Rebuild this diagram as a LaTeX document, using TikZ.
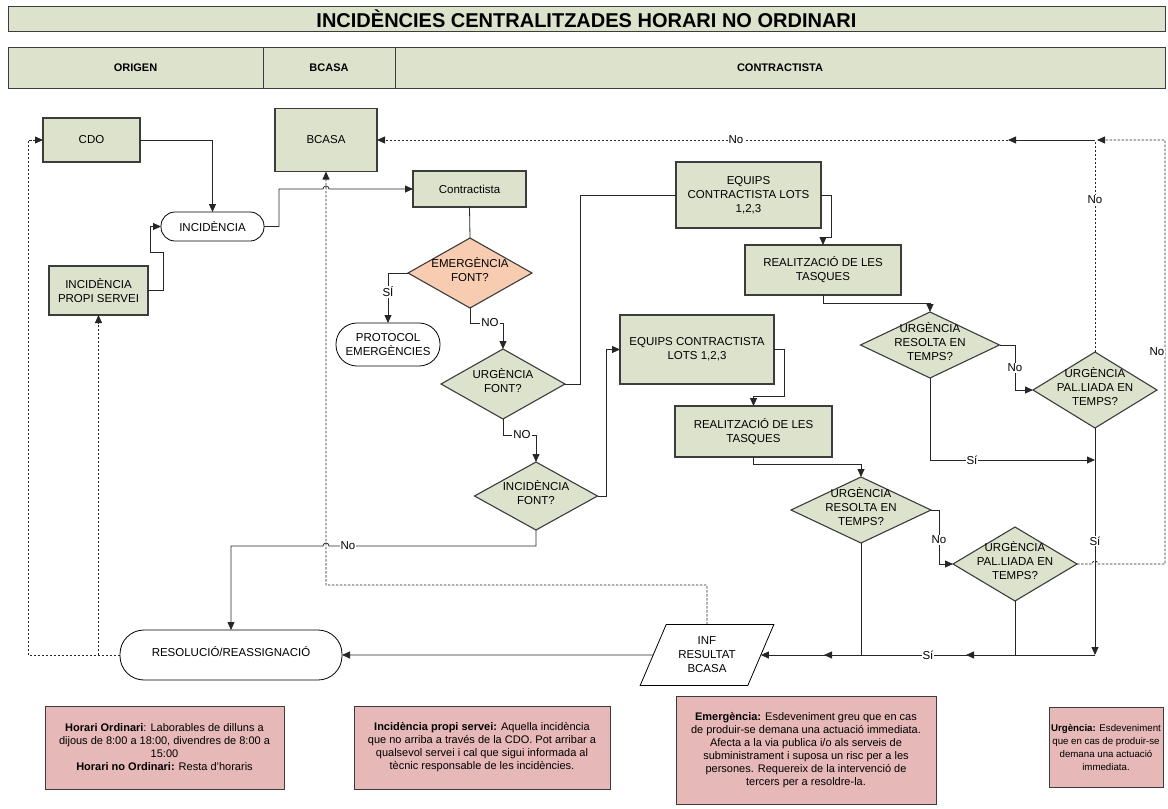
\documentclass[tikz,border=0pt]{standalone}
\usepackage{fontspec}
\setmainfont{Liberation Sans}
\usetikzlibrary{shapes.geometric,arrows.meta}
\definecolor{boxfill}{RGB}{221,226,204}
\definecolor{boxline}{RGB}{60,60,60}
\definecolor{emfill}{RGB}{248,204,176}
\definecolor{notefill}{RGB}{230,184,183}
\newcommand{\dtext}[1]{\raisebox{-4pt}{\smash{\makebox[0pt]{\begin{tabular}{@{}c@{}}#1\end{tabular}}}}}
\begin{document}
\begin{tikzpicture}[x=1pt,y=-1pt,
 base/.style={font=\fontsize{11.5}{14}\selectfont, align=center, inner sep=0pt, outer sep=0pt},
 gbox/.style={base, rectangle, draw=boxline, fill=boxfill, line width=1.1pt},
 term/.style={base, rectangle, draw=black, line width=0.8pt, fill=white},
 dia/.style={base, diamond, draw=boxline, fill=boxfill, line width=1.1pt},
 note/.style={rectangle, draw=boxline, fill=notefill, line width=1pt, align=center, font=\fontsize{11}{13}\selectfont, inner sep=0pt},
 head/.style={rectangle, draw=boxline, fill=boxfill, line width=1pt, font=\bfseries\fontsize{11}{12}\selectfont, inner sep=0pt},
 conn/.style={line width=0.8pt, draw=black!85},
 arr/.style={conn, -{Triangle[length=8pt,width=7pt]}},
 dconn/.style={conn, dash pattern=on 2.5pt off 1.5pt},
 darr/.style={dconn, -{Triangle[length=8pt,width=7pt]}},
 lab/.style={fill=white, inner sep=1pt, font=\fontsize{11.5}{14}\selectfont}
]
\useasboundingbox (0,0) rectangle (1168,809);

% header
\node[head, minimum width=1157, minimum height=25, font=\bfseries\fontsize{20}{22}\selectfont] (title) at (586.5,18.5) {INCIDÈNCIES CENTRALITZADES HORARI NO ORDINARI};
\node[head, minimum width=255, minimum height=41] (horig) at (135.5,67.5) {ORIGEN};
\node[head, minimum width=132, minimum height=41] (hbcasa) at (329,67.5) {BCASA};
\node[head, minimum width=770, minimum height=41] (hcontr) at (780,67.5) {CONTRACTISTA};

% nodes
\node[gbox, minimum width=97, minimum height=44] (cdo) at (91.5,140) {CDO};
\node[gbox, minimum width=102, minimum height=63] (bcasa) at (326,140) {BCASA};
\node[term, minimum width=103, minimum height=29, rounded corners=14pt] (inc) at (212.5,226.5) {INCIDÈNCIA};
\node[gbox, minimum width=99, minimum height=49] (propi) at (98.5,290.5) {INCIDÈNCIA\\PROPI SERVEI};
\node[gbox, minimum width=113, minimum height=36] (contr) at (469.5,189) {Contractista};
\node[dia, fill=emfill, minimum width=124, minimum height=70] (emerg) at (470,273) {\dtext{EMERGÈNCIA\\FONT?}};
\node[term, minimum width=104, minimum height=43, rounded corners=21pt] (prot) at (388,344.5) {PROTOCOL\\EMERGÈNCIES};
\node[dia, minimum width=124, minimum height=70] (urg) at (503,384) {\dtext{URGÈNCIA\\FONT?}};
\node[dia, minimum width=123, minimum height=68] (incf) at (536,496) {\dtext{INCIDÈNCIA\\FONT?}};
\node[gbox, minimum width=145, minimum height=66] (eq1) at (748.5,195) {EQUIPS\\CONTRACTISTA LOTS\\1,2,3};
\node[gbox, minimum width=156, minimum height=50] (real1) at (823,270) {REALITZACIÓ DE LES\\TASQUES};
\node[dia, minimum width=139, minimum height=66] (res1) at (930,345) {\dtext{URGÈNCIA\\RESOLTA EN\\TEMPS?}};
\node[dia, minimum width=124, minimum height=76] (pal1) at (1095,390) {\dtext{URGÈNCIA\\PAL.LIADA EN\\TEMPS?}};
\node[gbox, minimum width=154, minimum height=69] (eq2) at (697,349.5) {EQUIPS CONTRACTISTA\\LOTS 1,2,3};
\node[gbox, minimum width=157, minimum height=51] (real2) at (753.5,431.5) {REALITZACIÓ DE LES\\TASQUES};
\node[dia, minimum width=140, minimum height=66] (res2) at (861,510) {\dtext{URGÈNCIA\\RESOLTA EN\\TEMPS?}};
\node[dia, minimum width=124, minimum height=74] (pal2) at (1015,564) {\dtext{URGÈNCIA\\PAL.LIADA EN\\TEMPS?}};
\node[term, minimum width=222, minimum height=50, rounded corners=24pt] (res) at (231,655) {\raisebox{6pt}{RESOLUCIÓ/REASSIGNACIÓ}};
\node[trapezium, trapezium left angle=63, trapezium right angle=117, trapezium stretches=true, draw=black, line width=0.8pt, fill=white, base, minimum width=134, minimum height=61] (inf) at (707,655) {INF\\RESULTAT\\BCASA};

% notes
\node[note, minimum width=239, minimum height=83] (n1) at (164.5,747.5) {\textbf{Horari Ordinari}: Laborables de dilluns a\\dijous de 8:00 a 18:00, divendres de 8:00 a\\15:00\\\textbf{Horari no Ordinari:} Resta d'horaris};
\node[note, minimum width=256, minimum height=83] (n2) at (482,747.5) {\textbf{Incidència propi servei:} Aquella incidència\\que no arriba a través de la CDO. Pot arribar a\\qualsevol servei i cal que sigui informada al\\tècnic responsable de les incidències.};
\node[note, minimum width=260, minimum height=108] (n3) at (806,750) {\textbf{Emergència:} Esdeveniment greu que en cas\\de produir-se demana una actuació immediata.\\Afecta a la via publica i/o als serveis de\\subministrament i suposa un risc per a les\\persones. Requereix de la intervenció de\\tercers per a resoldre-la.};
\node[note, minimum width=114, minimum height=80, font=\fontsize{9.7}{13}\selectfont] (n4) at (1106,747) {\textbf{Urgència:} Esdeveniment\\que en cas de produir-se\\demana una actuació\\immediata.};

% connectors
\draw[arr] (cdo.east) -| (inc.north);
\draw[arr] (propi.east) -- (163,290.5) -- (163,252) -- (150,252) |- (inc.west);
\draw[arr] (inc.east) -- (279,226.5) |- (323,189) arc(180:360:3) -- (contr.west);
\draw[conn] (contr.south) -- (emerg.north);
\draw[arr] (emerg.west) -| (prot.north);
\draw[arr] (emerg.south) -- (470,323) -| (urg.north);
\draw[conn] (urg.east) -- (580,384) |- (eq1.west);
\draw[arr] (urg.south) -- (503,435) -| (incf.north);
\draw[arr] (incf.east) -- (606,496) |- (eq2.west);
\draw[arr] (incf.south) -- (536,546) -- (329,546) arc(0:-180:3) -| (res.north);
\draw[arr] (eq1.east) -- (831,195) -- (831,237) -| (real1.north);
\draw[arr] (real1.south) -- (823,303) -| (res1.north);
\draw[arr] (res1.east) -- (1015,345) |- (pal1.west);
\draw[arr] (res1.south) |- (1095,460);
\draw[arr] (eq2.east) -- (784,349.5) -- (784,396) -| (real2.north);
\draw[arr] (real2.south) -- (753.5,464) -| (res2.north);
\draw[arr] (res2.east) -- (939,510) |- (pal2.west);
\draw[arr] (pal1.south) -- (1095,655);
\draw[arr] (1095,655) -- (966,655);
\draw[arr] (pal2.south) |- (824,655);
\draw[arr] (res2.south) |- (inf.east);
\draw[arr] (inf.west) -- (res.east);
\draw[darr] (inf.north) -- (707,585) -| (bcasa.south);
\draw[darr] (res.west) -- (28,655) |- (cdo.west);
\draw[darr] (propi.south |- res.west) -- (propi.south);
\draw[dconn] (pal1.north) -- (1095,140);
\draw[darr] (pal2.east) -- (1092,564) arc(180:360:3) -- (1165,564) -- (1165,140) -- (1097,140);
\draw[arr] (1095,140) -- (1008,140);
\draw[darr] (1008,140) -- (bcasa.east);

% labels
\node[lab] (l1) at (736,140) {No};
\node[lab] (l2) at (1095,200) {No};
\node[lab] (l3) at (1157,352) {No};
\node[lab] (l4) at (388,292) {SÍ};
\node[lab] (l5) at (490,323) {NO};
\node[lab] (l6) at (522,435) {NO};
\node[lab] (l7) at (348,546) {No};
\node[lab] (l8) at (1015,368) {No};
\node[lab] (l9) at (972,460) {Sí};
\node[lab] (l10) at (1095,541) {Sí};
\node[lab] (l11) at (939,540) {No};
\node[lab] (l12) at (928,655) {Sí};
\end{tikzpicture}
\end{document}
